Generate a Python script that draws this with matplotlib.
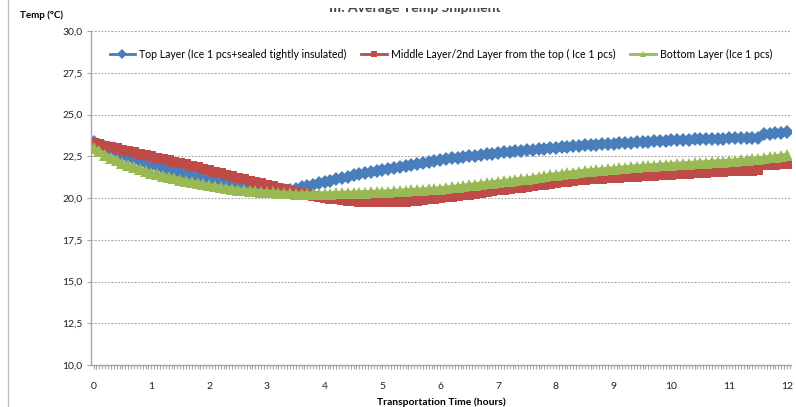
"""Average temperature per layer during transportation (Excel-style line chart)."""

import matplotlib
matplotlib.use("Agg")
import matplotlib.pyplot as plt
import matplotlib.ticker as mticker
from matplotlib.lines import Line2D
from matplotlib.patches import Rectangle
import numpy as np

# ── data: one reading every 0.1 h (6 min), 0 .. 12 h
SAMPLE_STEP_H = 0.1

top_layer = [
    23.35, 23.2, 23.05, 22.9, 22.75, 22.6,
    22.48, 22.36, 22.24, 22.12, 22.0,
    21.9, 21.8, 21.7, 21.6, 21.5,
    21.41, 21.32, 21.23, 21.14, 21.05,
    20.98, 20.91, 20.84, 20.77, 20.7,
    20.66, 20.62, 20.58, 20.54, 20.5,
    20.48, 20.46, 20.45, 20.5, 20.55,
    20.63, 20.71, 20.79, 20.87, 20.95,
    21.03, 21.11, 21.19, 21.27, 21.35,
    21.42, 21.49, 21.56, 21.63, 21.7,
    21.76, 21.82, 21.88, 21.94, 22.0,
    22.06, 22.12, 22.18, 22.24, 22.3,
    22.34, 22.38, 22.42, 22.46, 22.5,
    22.54, 22.58, 22.62, 22.66, 22.7,
    22.73, 22.76, 22.79, 22.82, 22.85,
    22.88, 22.91, 22.94, 22.97, 23.0,
    23.03, 23.06, 23.09, 23.12, 23.15,
    23.17, 23.19, 23.21, 23.23, 23.25,
    23.27, 23.29, 23.31, 23.33, 23.35,
    23.37, 23.39, 23.41, 23.43, 23.45,
    23.47, 23.48, 23.5, 23.51, 23.52,
    23.53, 23.54, 23.55, 23.56, 23.57,
    23.58, 23.59, 23.6, 23.6, 23.61,
    23.85, 23.86, 23.88, 23.9, 23.95,
]

middle_layer = [
    23.3, 23.22, 23.14, 23.06, 22.98, 22.9,
    22.82, 22.74, 22.66, 22.58, 22.5,
    22.42, 22.34, 22.26, 22.18, 22.1,
    22.01, 21.92, 21.83, 21.74, 21.65,
    21.56, 21.47, 21.38, 21.29, 21.2,
    21.12, 21.04, 20.96, 20.88, 20.8,
    20.71, 20.62, 20.53, 20.44, 20.35,
    20.28, 20.21, 20.14, 20.07, 20.0,
    19.96, 19.92, 19.88, 19.84, 19.8,
    19.79, 19.78, 19.77, 19.76, 19.75,
    19.76, 19.77, 19.78, 19.79, 19.8,
    19.84, 19.88, 19.92, 19.96, 20.0,
    20.04, 20.08, 20.12, 20.16, 20.2,
    20.25, 20.3, 20.35, 20.4, 20.45,
    20.49, 20.53, 20.57, 20.61, 20.65,
    20.7, 20.75, 20.8, 20.85, 20.9,
    20.94, 20.98, 21.02, 21.06, 21.1,
    21.12, 21.14, 21.16, 21.18, 21.2,
    21.22, 21.24, 21.26, 21.28, 21.3,
    21.32, 21.34, 21.36, 21.38, 21.4,
    21.42, 21.44, 21.46, 21.48, 21.5,
    21.52, 21.54, 21.56, 21.58, 21.6,
    21.61, 21.62, 21.63, 21.64, 21.65,
    21.95, 21.97, 21.99, 22.02, 22.05,
]

bottom_layer = [
    23.0, 22.8, 22.6, 22.42, 22.25, 22.1,
    21.97, 21.84, 21.72, 21.61, 21.5,
    21.42, 21.34, 21.26, 21.18, 21.1,
    21.03, 20.96, 20.89, 20.82, 20.75,
    20.7, 20.65, 20.6, 20.55, 20.5,
    20.47, 20.44, 20.41, 20.38, 20.35,
    20.33, 20.31, 20.29, 20.27, 20.25,
    20.25, 20.25, 20.25, 20.25, 20.25,
    20.26, 20.27, 20.28, 20.29, 20.3,
    20.31, 20.32, 20.33, 20.34, 20.35,
    20.37, 20.39, 20.41, 20.43, 20.45,
    20.47, 20.49, 20.51, 20.53, 20.55,
    20.59, 20.63, 20.67, 20.71, 20.75,
    20.79, 20.83, 20.87, 20.91, 20.95,
    20.99, 21.03, 21.07, 21.11, 21.15,
    21.2, 21.25, 21.3, 21.35, 21.4,
    21.44, 21.48, 21.52, 21.56, 21.6,
    21.63, 21.66, 21.69, 21.72, 21.75,
    21.78, 21.81, 21.84, 21.87, 21.9,
    21.92, 21.94, 21.96, 21.98, 22.0,
    22.02, 22.04, 22.06, 22.08, 22.1,
    22.12, 22.14, 22.16, 22.18, 22.2,
    22.23, 22.26, 22.29, 22.32, 22.35,
    22.39, 22.43, 22.47, 22.51, 22.55,
]

series_labels = [
    "Top Layer (Ice 1 pcs+sealed tightly insulated)",
    "Middle Layer/2nd Layer from the top ( Ice 1 pcs)",
    "Bottom Layer (Ice 1 pcs)",
]
hour_ticks = list(range(0, 13))
temp_ticks = [10.0, 12.5, 15.0, 17.5, 20.0, 22.5, 25.0, 27.5, 30.0]

# ── style
plt.rcParams.update({
    "font.family": ["Lato", "DejaVu Sans"],
    "font.size": 7.5,
    "axes.edgecolor": "#a6a6a6",
    "axes.linewidth": 1.0,
})

COLORS = ["#4a7ebb", "#be4b48", "#98b954"]
MARKERS = [("D", 7.2), ("s", 7.4), ("^", 8.4)]

fig = plt.figure(figsize=(7.96, 4.07), dpi=100)
ax = fig.add_axes([91 / 796, 1 - 365 / 407, 700 / 796, 334 / 407])

for values, label, color, (marker, size) in zip(
        [top_layer, middle_layer, bottom_layer], series_labels, COLORS, MARKERS):
    hours = np.arange(len(values)) * SAMPLE_STEP_H
    ax.plot(hours, values, color=color, lw=3.6, marker=marker, markersize=size,
            markeredgewidth=0, label=label)

ax.set_xlim(-0.045, 12.07)
ax.set_ylim(10, 30)
ax.set_xticks(hour_ticks)
ax.xaxis.set_minor_locator(mticker.MultipleLocator(0.05))
ax.set_yticks(temp_ticks)
ax.yaxis.set_major_formatter(
    mticker.FuncFormatter(lambda v, _: f"{v:.1f}".replace(".", ",")))

ax.tick_params(axis="x", which="both", length=3, width=0.8, color="#a6a6a6",
               direction="out", pad=9, labelsize=7.5, labelcolor="#222222")
ax.tick_params(axis="y", length=3, width=0.8, color="#a6a6a6", pad=3,
               labelsize=7.5, labelcolor="#222222")

for spine in ("top", "right"):
    ax.spines[spine].set_visible(False)

ax.grid(axis="y", linestyle=(0, (1.5, 1.5)), color="#a0a0a0", linewidth=0.8)
ax.set_axisbelow(True)

ax.set_xlabel("Transportation Time (hours)", fontsize=7.5, fontweight="bold",
              labelpad=5)

leg = ax.legend(loc="upper center", bbox_to_anchor=(0.5, 0.975), ncol=3,
                frameon=False, fontsize=7.6, handlelength=2.4,
                columnspacing=1.4, handletextpad=0.4)
for handle in leg.legend_handles:
    handle.set_linewidth(2.0)
    handle.set_markersize(5)

fig.text(20 / 796, 1 - 15 / 407, "Temp (ºC)", fontsize=7.0, fontweight="bold",
         va="center", ha="left")
fig.text(415 / 796, 1 - 12 / 407, "III. Average Temp Shipment", fontsize=10,
         fontweight="bold", ha="center", va="baseline", color="#444444")
# the top of the title is hidden in the source image
fig.add_artist(Rectangle((300 / 796, 1 - 8 / 407), 240 / 796, 8 / 407,
                         transform=fig.transFigure, facecolor="white",
                         edgecolor="none", zorder=10))

# chart-area border on the left
fig.add_artist(Line2D([8 / 796, 8 / 796], [0, 1], color="#bfbfbf", lw=1.0,
                      transform=fig.transFigure))

fig.savefig("out.png", dpi=100)
